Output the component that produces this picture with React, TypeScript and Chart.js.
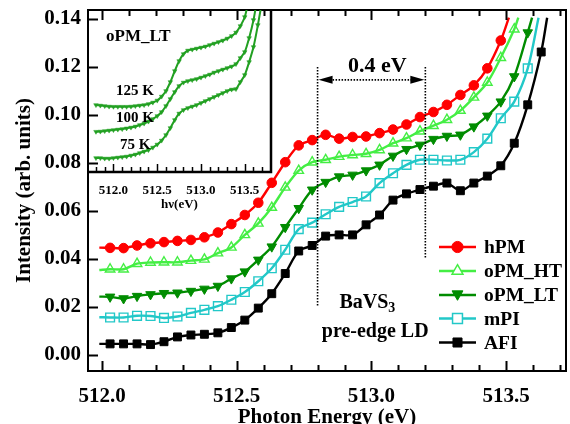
import React, { useEffect, useRef } from 'react';
import { Chart, registerables } from 'chart.js';
import { drawPoint } from 'chart.js/helpers';

Chart.register(...registerables);

const FONT = 'Liberation Serif';

// ---------- main chart data ----------
const energy = [512.03, 512.08, 512.13, 512.18, 512.23, 512.28, 512.33, 512.38, 512.43, 512.48,
  512.53, 512.58, 512.63, 512.68, 512.73, 512.78, 512.83, 512.88, 512.93, 512.98,
  513.03, 513.08, 513.13, 513.18, 513.23, 513.28, 513.33, 513.38, 513.43, 513.48,
  513.53, 513.58, 513.63];

const hPM = [0.0446, 0.0445, 0.0456, 0.0465, 0.0470, 0.0475, 0.0479, 0.0490, 0.0510, 0.0545,
  0.0583, 0.0634, 0.0717, 0.0803, 0.0873, 0.0895, 0.0917, 0.0901, 0.0908, 0.0910,
  0.0924, 0.0939, 0.0960, 0.0991, 0.1012, 0.1042, 0.1083, 0.1123, 0.1194, 0.1310];
const oPM_HT = [0.0357, 0.0357, 0.0380, 0.0385, 0.0386, 0.0386, 0.0393, 0.0398, 0.0424, 0.0448,
  0.0500, 0.0548, 0.0614, 0.0698, 0.0768, 0.0803, 0.0813, 0.0826, 0.0833, 0.0838,
  0.0854, 0.0882, 0.0903, 0.0932, 0.0955, 0.0980, 0.1018, 0.1073, 0.1135, 0.1238, 0.1357];
const oPM_LT = [0.0242, 0.0235, 0.0245, 0.0252, 0.0257, 0.0259, 0.0266, 0.0275, 0.0287, 0.0318,
  0.0347, 0.0396, 0.0451, 0.0532, 0.0611, 0.0688, 0.0720, 0.0743, 0.0750, 0.0768,
  0.0792, 0.0829, 0.0857, 0.0875, 0.0899, 0.0912, 0.0917, 0.0951, 0.0996, 0.1055, 0.1160, 0.1343];
const mPI = [0.0156, 0.0156, 0.0163, 0.0162, 0.0154, 0.0160, 0.0175, 0.0188, 0.0203, 0.0230,
  0.0262, 0.0307, 0.0361, 0.0438, 0.0524, 0.0551, 0.0586, 0.0617, 0.0637, 0.0660,
  0.0716, 0.0757, 0.0792, 0.0813, 0.0813, 0.0810, 0.0813, 0.0845, 0.0901, 0.0986, 0.1055, 0.1194];
const AFI = [0.0046, 0.0046, 0.0046, 0.0043, 0.0055, 0.0075, 0.0083, 0.0086, 0.0092, 0.0114,
  0.0145, 0.0195, 0.0255, 0.0339, 0.0433, 0.0456, 0.0495, 0.0500, 0.0500, 0.0542,
  0.0583, 0.0645, 0.0671, 0.0689, 0.0703, 0.0716, 0.0684, 0.0716, 0.0745, 0.0788, 0.0882, 0.1042, 0.1262];

// smooth-curve ends (line only, no marker)
const lineStartE = 511.99;
const lineStartV = [0.0447, 0.0354, 0.0243, 0.0157, 0.0046];
const lineEndE = [513.51, 513.545, 513.596, 513.62, 513.652];
const lineEndV = [0.1405, 0.1405, 0.1405, 0.1405, 0.1405];

const seriesLabels = ['hPM', 'oPM_HT', 'oPM_LT', 'mPI', 'AFI'];
const seriesValues = [hPM, oPM_HT, oPM_LT, mPI, AFI];

const xTickValues = [512.0, 512.5, 513.0, 513.5];
const yTickValues = [0.0, 0.02, 0.04, 0.06, 0.08, 0.10, 0.12, 0.14];

// annotation anchors (data units)
const gapLeftE = 512.8;
const gapRightE = 513.2;
const gapTopV = 0.12;
const gapLeftBottomV = 0.0204;
const gapRightBottomV = 0.0404;
const arrowV = 0.1146;

// ---------- inset data ----------
const insetEnergy = [511.80, 511.85, 511.90, 511.95, 512.00, 512.05, 512.10, 512.15, 512.20, 512.25,
  512.30, 512.35, 512.40, 512.45, 512.50, 512.55, 512.60, 512.65, 512.70, 512.75,
  512.80, 512.85, 512.90, 512.95, 513.00, 513.05, 513.10, 513.15, 513.20, 513.25,
  513.30, 513.35, 513.40, 513.45, 513.50, 513.55, 513.60, 513.65, 513.70];
const k125 = [0.67, 0.665, 0.66, 0.655, 0.653, 0.653, 0.653, 0.653, 0.655, 0.66, 0.665, 0.67,
  0.68, 0.695, 0.715, 0.755, 0.81, 0.90, 1.01, 1.11, 1.18, 1.215, 1.225, 1.235,
  1.245, 1.255, 1.27, 1.285, 1.30, 1.315, 1.335, 1.36, 1.395, 1.46, 1.55, 1.74];
const k100 = [0.403, 0.405, 0.41, 0.415, 0.42, 0.425, 0.43, 0.437, 0.445, 0.455, 0.47, 0.485,
  0.505, 0.53, 0.56, 0.60, 0.66, 0.73, 0.80, 0.86, 0.895, 0.91, 0.92, 0.93,
  0.945, 0.96, 0.975, 0.995, 1.01, 1.025, 1.04, 1.055, 1.08, 1.14, 1.20, 1.34, 1.52, 1.77];
const k75 = [0.14, 0.14, 0.135, 0.135, 0.14, 0.145, 0.15, 0.155, 0.165, 0.175, 0.19, 0.205, 0.22,
  0.245, 0.275, 0.315, 0.37, 0.44, 0.52, 0.585, 0.62, 0.64, 0.655, 0.67, 0.69, 0.71,
  0.73, 0.75, 0.77, 0.79, 0.81, 0.825, 0.83, 0.90, 0.97, 1.10, 1.25, 1.47, 1.72];
const insetTickValues = [512.0, 512.5, 513.0, 513.5];

const styles = [
  { color: '#ff0000', pointStyle: 'circle', rotation: 0, fill: true, radius: 4.8 },
  { color: '#44ee44', pointStyle: 'triangle', rotation: 0, fill: false, radius: 5.5 },
  { color: '#008c00', pointStyle: 'triangle', rotation: 180, fill: true, radius: 5.5 },
  { color: '#22c8c8', pointStyle: 'rect', rotation: 0, fill: false, radius: 6.2 },
  { color: '#000000', pointStyle: 'rect', rotation: 0, fill: true, radius: 5.6 },
];

const bold = (size: number) => `bold ${size}px "${FONT}"`;

const mainPlugin = {
  id: 'mainDecor',
  afterDraw(chart: any) {
    const { ctx, chartArea: a, scales } = chart;
    const x = scales.x, y = scales.y;
    ctx.save();
    ctx.strokeStyle = '#000';
    ctx.lineWidth = 2;
    ctx.strokeRect(a.left, a.top, a.right - a.left, a.bottom - a.top);
    // inward x ticks (bottom & top)
    for (let i = 0; i <= 17; i++) {
      const v = 512 + i * 0.1;
      const px = Math.round(x.getPixelForValue(v)) + 0.5;
      const len = i % 5 === 0 ? 10 : 6;
      ctx.beginPath();
      ctx.moveTo(px, a.bottom); ctx.lineTo(px, a.bottom - len);
      ctx.moveTo(px, a.top); ctx.lineTo(px, a.top + len);
      ctx.stroke();
    }
    for (const v of yTickValues) {
      const py = Math.round(y.getPixelForValue(v)) + 0.5;
      ctx.beginPath();
      ctx.moveTo(a.left, py); ctx.lineTo(a.left + 10, py);
      ctx.stroke();
    }
    // dotted gap lines
    const xl = x.getPixelForValue(gapLeftE), xr = x.getPixelForValue(gapRightE);
    const yt = y.getPixelForValue(gapTopV);
    ctx.setLineDash([1.5, 1.5]);
    ctx.lineWidth = 1.6;
    ctx.beginPath();
    ctx.moveTo(xl, yt); ctx.lineTo(xl, y.getPixelForValue(gapLeftBottomV));
    ctx.moveTo(xr, yt); ctx.lineTo(xr, y.getPixelForValue(gapRightBottomV));
    const ya = y.getPixelForValue(arrowV);
    ctx.moveTo(xl + 12, ya); ctx.lineTo(xr - 12, ya);
    ctx.stroke();
    ctx.setLineDash([]);
    ctx.fillStyle = '#000';
    ctx.beginPath();
    ctx.moveTo(xl + 1, ya); ctx.lineTo(xl + 15, ya - 4); ctx.lineTo(xl + 15, ya + 4); ctx.closePath();
    ctx.moveTo(xr - 1, ya); ctx.lineTo(xr - 15, ya - 4); ctx.lineTo(xr - 15, ya + 4); ctx.closePath();
    ctx.fill();
    // texts
    ctx.textBaseline = 'alphabetic';
    ctx.textAlign = 'center';
    ctx.font = bold(22);
    ctx.fillText('0.4 eV', x.getPixelForValue(513.022), y.getPixelForValue(0.118));
    ctx.font = bold(20);
    const bw = ctx.measureText('BaVS').width;
    ctx.font = bold(14);
    const sw = ctx.measureText('3').width;
    const bx = x.getPixelForValue(512.985) - (bw + sw) / 2;
    const by = y.getPixelForValue(0.0196);
    ctx.textAlign = 'left';
    ctx.font = bold(20);
    ctx.fillText('BaVS', bx, by);
    ctx.font = bold(14);
    ctx.fillText('3', bx + bw, by + 4);
    ctx.textAlign = 'center';
    ctx.font = bold(20);
    ctx.fillText('pre-edge LD', x.getPixelForValue(513.014), y.getPixelForValue(0.0075));
    // legend
    const rows = [247, 271, 295, 318.5, 342.5];
    chart.data.datasets.forEach((ds: any, i: number) => {
      const st = styles[i];
      const ry = rows[i];
      ctx.strokeStyle = st.color;
      ctx.lineWidth = 2.5;
      ctx.beginPath(); ctx.moveTo(439, ry); ctx.lineTo(476, ry); ctx.stroke();
      ctx.fillStyle = st.fill ? st.color : '#ffffff';
      ctx.lineWidth = st.fill ? 1 : 1.5;
      drawPoint(ctx, { pointStyle: st.pointStyle, rotation: st.rotation, radius: st.radius + 0.8, borderWidth: ctx.lineWidth } as any, 457.5, ry + (st.rotation === 180 ? -1 : 0));
      ctx.fillStyle = '#000';
      ctx.font = bold(19.5);
      ctx.textAlign = 'left';
      ctx.textBaseline = 'middle';
      ctx.fillText(ds.label, 484, ry + 1);
    });
    ctx.restore();
  },
};

const insetPlugin = {
  id: 'insetDecor',
  afterDraw(chart: any) {
    const { ctx, chartArea: a, scales } = chart;
    const x = scales.x;
    ctx.save();
    ctx.strokeStyle = '#000';
    ctx.lineWidth = 2.5;
    ctx.beginPath();
    ctx.moveTo(a.left - 1, a.bottom); ctx.lineTo(a.right, a.bottom); ctx.lineTo(a.right, a.top);
    ctx.stroke();
    ctx.lineWidth = 1.5;
    for (let i = 0; i <= 19; i++) {
      const v = 511.8 + i * 0.1;
      const px = Math.round(x.getPixelForValue(v)) + 0.5;
      const len = (i - 2) % 5 === 0 ? 8 : 5;
      ctx.beginPath(); ctx.moveTo(px, a.bottom); ctx.lineTo(px, a.bottom - len); ctx.stroke();
    }
    ctx.fillStyle = '#000';
    ctx.textAlign = 'left';
    ctx.textBaseline = 'middle';
    ctx.font = bold(17);
    ctx.fillText('oPM_LT', 106, 37);
    ctx.font = bold(15);
    ctx.fillText('125 K', 116, 91);
    ctx.fillText('100 K', 116, 118);
    ctx.fillText('75 K', 120, 145);
    ctx.restore();
  },
};

function makeMain(canvas: HTMLCanvasElement) {
  const datasets = seriesValues.map((vals, i) => {
    const st = styles[i];
    const pts = [{ x: lineStartE, y: lineStartV[i] }];
    vals.forEach((v, j) => pts.push({ x: energy[j], y: v }));
    pts.push({ x: lineEndE[i], y: lineEndV[i] });
    const n = pts.length;
    return {
      label: seriesLabels[i],
      data: pts,
      borderColor: st.color,
      borderWidth: 2.4,
      pointStyle: st.pointStyle,
      rotation: st.rotation,
      pointBackgroundColor: st.fill ? st.color : 'rgba(0,0,0,0)',
      pointBorderColor: st.color,
      pointBorderWidth: st.fill ? 1 : 1.4,
      pointRadius: (c: any) => (c.dataIndex === 0 || c.dataIndex === n - 1 ? 0 : st.radius),
      tension: 0.3,
      fill: false,
    };
  });
  return new Chart(canvas, {
    type: 'line',
    data: { datasets },
    options: {
      animation: false,
      responsive: false,
      devicePixelRatio: 1,
      layout: { padding: { top: 10, right: 4, left: 0, bottom: 0 } },
      plugins: { legend: { display: false }, tooltip: { enabled: false } },
      scales: {
        x: {
          type: 'linear', min: 511.948, max: 513.722,
          grid: { display: false, drawTicks: false },
          border: { display: false },
          afterBuildTicks: (s: any) => { s.ticks = xTickValues.map((v) => ({ value: v })); },
          afterFit: (s: any) => { s.height = 53; s.paddingLeft = 0; s.paddingRight = 0; },
          ticks: { color: '#000', padding: 13, font: { family: FONT, weight: 'bold', size: 21 }, callback: (v: any) => Number(v).toFixed(1), maxRotation: 0 },
          title: { display: true, text: 'Photon Energy (eV)', color: '#000', font: { family: FONT, weight: 'bold', size: 21, lineHeight: 1 }, padding: { top: 0, bottom: -4 } },
        },
        y: {
          type: 'linear', min: -0.0067, max: 0.1437,
          grid: { display: false, drawTicks: false },
          border: { display: false },
          afterBuildTicks: (s: any) => { s.ticks = yTickValues.map((v) => ({ value: v })); },
          afterFit: (s: any) => { s.width = 88; s.paddingTop = 0; s.paddingBottom = 0; },
          ticks: { color: '#000', padding: 7, font: { family: FONT, weight: 'bold', size: 21 }, callback: (v: any) => Number(v).toFixed(2) },
          title: { display: true, text: 'Intensity (arb. units)', color: '#000', font: { family: FONT, weight: 'bold', size: 21, lineHeight: 1.2 }, padding: { top: 12, bottom: 0 } },
        },
      },
    } as any,
    plugins: [mainPlugin],
  });
}

function makeInset(canvas: HTMLCanvasElement) {
  const mk = (vals: number[], label: string) => ({
    label,
    data: vals.map((v, j) => ({ x: insetEnergy[j], y: v })),
    borderColor: '#22a022',
    borderWidth: 2,
    pointStyle: 'triangle',
    rotation: 180,
    pointRadius: 2.6,
    pointBackgroundColor: '#22a022',
    pointBorderColor: '#22a022',
    pointBorderWidth: 0.5,
    tension: 0.3,
    fill: false,
  });
  return new Chart(canvas, {
    type: 'line',
    data: { datasets: [mk(k125, '125 K'), mk(k100, '100 K'), mk(k75, '75 K')] },
    options: {
      animation: false,
      responsive: false,
      devicePixelRatio: 1,
      layout: { padding: { top: 10, right: 299, left: 88, bottom: 209 } },
      plugins: { legend: { display: false }, tooltip: { enabled: false } },
      scales: {
        x: {
          type: 'linear', min: 511.709, max: 513.8,
          grid: { display: false, drawTicks: false },
          border: { display: false },
          afterBuildTicks: (s: any) => { s.ticks = insetTickValues.map((v) => ({ value: v })); },
          afterFit: (s: any) => { s.height = 43; s.paddingLeft = 0; s.paddingRight = 0; },
          ticks: { color: '#000', padding: 11, font: { family: FONT, weight: 'bold', size: 13 }, callback: (v: any) => Number(v).toFixed(1), maxRotation: 0 },
          title: { display: true, text: 'hν(eV)', color: '#000', font: { family: FONT, weight: 'bold', size: 13, lineHeight: 1 }, padding: { top: 0, bottom: 4 } },
        },
        y: {
          type: 'linear', min: 0, max: 1.62, display: false,
          afterFit: (s: any) => { s.width = 0; s.paddingTop = 0; s.paddingBottom = 0; },
        },
      },
    } as any,
    plugins: [insetPlugin],
  });
}

export default function App() {
  const mainRef = useRef<HTMLCanvasElement>(null);
  const insetRef = useRef<HTMLCanvasElement>(null);
  useEffect(() => {
    const m = makeMain(mainRef.current!);
    const i = makeInset(insetRef.current!);
    return () => { m.destroy(); i.destroy(); };
  }, []);
  return (
    <div style={{ position: 'absolute', left: 0, top: 0, width: 570, height: 424, background: '#fff' }}>
      <canvas ref={mainRef} width={570} height={424} style={{ position: 'absolute', left: 0, top: 0, width: 570, height: 424 }} />
      <canvas ref={insetRef} width={570} height={424} style={{ position: 'absolute', left: 0, top: 0, width: 570, height: 424, pointerEvents: 'none' }} />
    </div>
  );
}
